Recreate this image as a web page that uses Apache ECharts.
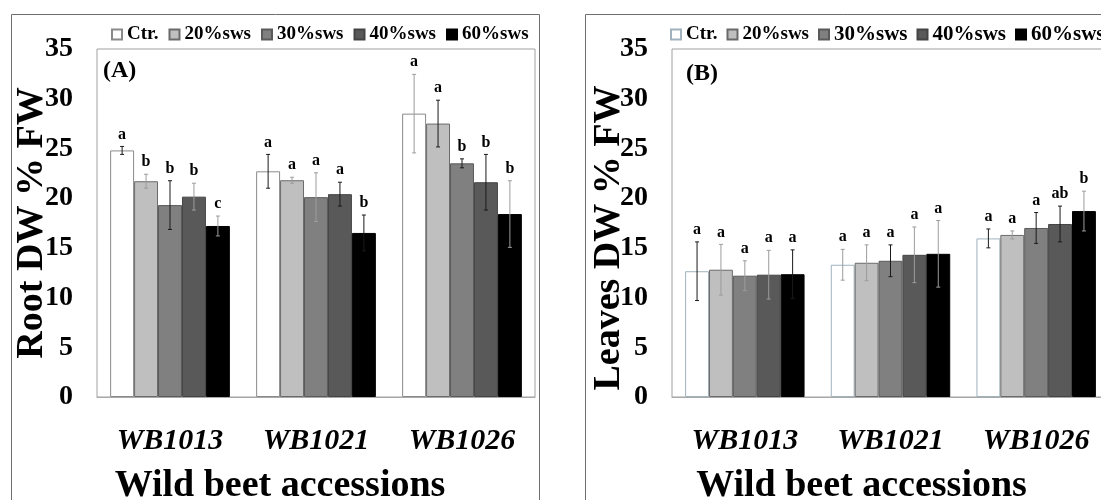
<!DOCTYPE html>
<html>
<head>
<meta charset="utf-8">
<script src="https://cdn.jsdelivr.net/npm/echarts@6/dist/echarts.min.js"></script>
<style>html,body{margin:0;padding:0;background:#fff}#c{width:1101px;height:500px}</style>
</head>
<body>
<div id="c"></div>
<script>
// ---------------- data ----------------
const categories = ['WB1013', 'WB1021', 'WB1026'];
const seriesNames = ['Ctr.', '20%sws', '30%sws', '40%sws', '60%sws'];

// Root DW % FW  (rows: treatments, cols: accessions)
const rootMean = [
  [24.8, 22.7, 28.5],
  [21.7, 21.8, 27.5],
  [19.3, 20.1, 23.5],
  [20.15, 20.4, 21.6],
  [17.2, 16.5, 18.4]
];
const rootErr = [
  [0.4, 1.7, 3.95],
  [0.7, 0.3, 2.35],
  [2.45, 2.45, 0.45],
  [1.35, 1.2, 2.8],
  [1.0, 1.8, 3.35]
];
const rootLetters = [
  ['a', 'a', 'a'],
  ['b', 'a', 'a'],
  ['b', 'a', 'b'],
  ['b', 'a', 'b'],
  ['c', 'b', 'b']
];

// Leaves DW % FW
const leavesMean = [
  [12.65, 13.3, 15.95],
  [12.8, 13.5, 16.3],
  [12.2, 13.7, 17.0],
  [12.3, 14.3, 17.4],
  [12.35, 14.4, 18.7]
];
const leavesErr = [
  [2.95, 1.55, 0.95],
  [2.55, 1.8, 0.4],
  [1.5, 1.6, 1.55],
  [2.45, 2.8, 1.8],
  [2.45, 3.35, 2.0]
];
const leavesLetters = [
  ['a', 'a', 'a'],
  ['a', 'a', 'a'],
  ['a', 'a', 'a'],
  ['a', 'a', 'ab'],
  ['a', 'a', 'b']
];

// ---------------- styles ----------------
const FONT = 'Liberation Serif, Times New Roman, serif';
const barColors = ['#ffffff', '#bfbfbf', '#808080', '#595959', '#000000'];
const barBorders = ['#8a8a8a', '#6a6a6a', '#5a5a5a', '#444444', '#000000'];
const DK = '#1a1a1a', LT = '#9c9c9c';
const rootErrColor = [
  [DK, DK, LT], [LT, LT, DK], [DK, LT, DK], [LT, DK, DK], [LT, DK, LT]
];
const leavesErrColor = [
  [DK, LT, DK], [LT, LT, LT], [LT, DK, DK], [LT, LT, DK], [DK, LT, LT]
];
const CAT_GAP = 0.18;

function makeErrRender(si, letters, colors) {
  return function (params, api) {
    const ci = api.value(0), v = api.value(1), e = api.value(2);
    const c = api.coord([ci, v]);
    const band = api.size([1, 0])[0];
    const group = band * (1 - CAT_GAP);
    const bw = group / 5;
    const x = c[0] - group / 2 + (si + 0.5) * bw;
    const yt = api.coord([ci, v + e])[1];
    const yb = api.coord([ci, v - e])[1];
    const col = colors[si][ci];
    const cap = 2;
    return {
      type: 'group',
      children: [
        { type: 'line', shape: { x1: x, y1: yt, x2: x, y2: yb }, style: { stroke: col, lineWidth: 1 } },
        { type: 'line', shape: { x1: x - cap, y1: yt, x2: x + cap, y2: yt }, style: { stroke: col, lineWidth: 1 } },
        { type: 'line', shape: { x1: x - cap, y1: yb, x2: x + cap, y2: yb }, style: { stroke: col, lineWidth: 1 } },
        { type: 'text', style: { text: letters[si][ci], x: x, y: yt - 4, align: 'center', verticalAlign: 'bottom',
            fontFamily: FONT, fontWeight: 'bold', fontSize: 16, fill: '#000' } }
      ]
    };
  };
}

function buildSeries(means, errs, letters, colors, gi, ctrBorder) {
  const out = [];
  means.forEach((vals, si) => {
    out.push({
      name: seriesNames[si], type: 'bar', xAxisIndex: gi, yAxisIndex: gi,
      barGap: '0%', barCategoryGap: (CAT_GAP * 100) + '%',
      itemStyle: { color: barColors[si], borderColor: si === 0 ? ctrBorder : barBorders[si], borderWidth: 1 },
      data: vals, silent: true, z: 2
    });
  });
  means.forEach((vals, si) => {
    out.push({
      type: 'custom', xAxisIndex: gi, yAxisIndex: gi, z: 5, silent: true, clip: false,
      renderItem: makeErrRender(si, letters, colors),
      data: vals.map((v, ci) => [ci, v, errs[si][ci]])
    });
  });
  return out;
}

const xAxisCommon = {
  type: 'category', data: categories,
  axisTick: { show: false },
  axisLine: { lineStyle: { color: '#a8a8a8' } },
  axisLabel: { fontFamily: FONT, fontWeight: 'bold', fontStyle: 'italic', fontSize: 30, color: '#000', margin: 29 },
  nameLocation: 'middle', nameGap: 70,
  nameTextStyle: { fontFamily: FONT, fontWeight: 'bold', fontSize: 38, color: '#000' }
};
const yAxisCommon = {
  type: 'value', min: 0, max: 35, interval: 5,
  axisLine: { show: false }, axisTick: { show: false }, splitLine: { show: false },
  axisLabel: { fontFamily: FONT, fontWeight: 'bold', fontSize: 28, color: '#000', margin: 24 },
  nameLocation: 'middle', nameRotate: 90, nameMoveOverlap: false,
  nameTextStyle: { fontFamily: FONT, fontWeight: 'bold', fontSize: 38, color: '#000' }
};

const legendText = { fontFamily: FONT, fontWeight: 'bold', fontSize: 19, color: '#000' };

const option = {
  backgroundColor: '#fff',
  animation: false,
  title: [
    { text: '(A)', left: 98, top: 54, textStyle: { fontFamily: FONT, fontWeight: 'bold', fontSize: 24, color: '#000' } },
    { text: '(B)', left: 681, top: 57, textStyle: { fontFamily: FONT, fontWeight: 'bold', fontSize: 24, color: '#000' } }
  ],
  legend: [
    { left: 106, top: 20, width: 600, icon: 'rect', itemWidth: 10, itemHeight: 10, itemGap: 10, selectedMode: false,
      textStyle: legendText, data: seriesNames.slice() },
    { left: 665, top: 19, width: 600, icon: 'rect', itemWidth: 10, itemHeight: 10, itemGap: 9, selectedMode: false,
      textStyle: legendText,
      data: [
        { name: 'Ctr.', itemStyle: { borderColor: '#9fb2bd' } },
        { name: '20%sws' },
        { name: '30%sws', textStyle: { fontSize: 21 } },
        { name: '40%sws', textStyle: { fontSize: 21 } },
        { name: '60%sws', textStyle: { fontSize: 21 } }
      ] }
  ],
  grid: [
    { left: 97, top: 49, width: 438, height: 348, show: true, borderColor: '#a0a0a0', borderWidth: 1,
      outerBoundsMode: 'none', containLabel: false },
    { left: 672, top: 49, width: 437, height: 348, show: true, borderColor: '#a0a0a0', borderWidth: 1,
      outerBoundsMode: 'none', containLabel: false }
  ],
  xAxis: [
    Object.assign({}, xAxisCommon, { gridIndex: 0, name: 'Wild beet accessions',
      nameTextStyle: Object.assign({}, xAxisCommon.nameTextStyle, { padding: [0, 72, 0, 0] }) }),
    Object.assign({}, xAxisCommon, { gridIndex: 1, name: 'Wild beet accessions',
      nameTextStyle: Object.assign({}, xAxisCommon.nameTextStyle, { padding: [0, 58, 0, 0] }) })
  ],
  yAxis: [
    Object.assign({}, yAxisCommon, { gridIndex: 0, name: 'Root DW % FW', nameGap: 46 }),
    Object.assign({}, yAxisCommon, { gridIndex: 1, name: 'Leaves DW % FW', nameGap: 44,
      nameTextStyle: Object.assign({}, yAxisCommon.nameTextStyle, { padding: [0, 30, 0, 0] }) })
  ],
  graphic: [
    { type: 'rect', silent: true, shape: { x: 11.5, y: 14.5, width: 528, height: 500 },
      style: { fill: null, stroke: '#6e6e6e', lineWidth: 1 } },
    { type: 'rect', silent: true, shape: { x: 585.5, y: 14.5, width: 600, height: 500 },
      style: { fill: null, stroke: '#6e6e6e', lineWidth: 1 } }
  ],
  series: [].concat(
    buildSeries(rootMean, rootErr, rootLetters, rootErrColor, 0, '#8a8a8a'),
    buildSeries(leavesMean, leavesErr, leavesLetters, leavesErrColor, 1, '#9fb2bd')
  )
};

const chart = echarts.init(document.getElementById('c'), null, { renderer: 'canvas' });
chart.setOption(option);
</script>
</body>
</html>
